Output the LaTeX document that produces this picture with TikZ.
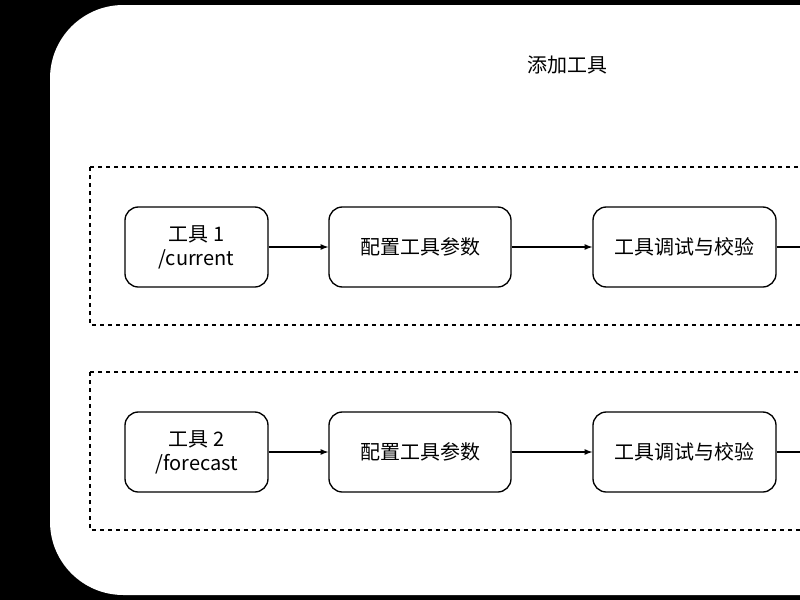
\documentclass[tikz,border=0pt]{standalone}
\usepackage{fontspec}
\setmainfont{Noto Sans CJK SC}
\begin{document}
\begin{tikzpicture}[x=0.75pt,y=-0.75pt,
  box/.style={draw,rounded corners=10pt,line width=1pt,fill=white,align=center,font=\fontsize{15}{18}\selectfont},
  grp/.style={draw,dashed,line width=0.8pt},
  arr/.style={-latex,line width=1pt}]
\useasboundingbox (0,0) rectangle (800,600);
\fill[black] (0,0) rectangle (800,600);
\fill[white,rounded corners=55pt] (50,5) rectangle (900,595);
\clip (0,0) rectangle (800,600);
\node[font=\fontsize{15}{18}\selectfont] (title) at (567,65) {添加工具};
\foreach \r/\y/\t in {1/167/{工具 1\\/current},2/372/{工具 2\\/forecast}}{
  \draw[grp] (90,\y) rectangle (830,\y+158);
  \node[box,minimum width=143*0.75pt,minimum height=80*0.75pt] (t\r) at (196.5,\y+80) {\t};
  \node[box,minimum width=182*0.75pt,minimum height=80*0.75pt] (c\r) at (420,\y+80) {配置工具参数};
  \node[box,minimum width=183*0.75pt,minimum height=80*0.75pt] (d\r) at (684.5,\y+80) {工具调试与校验};
  \coordinate (e\r) at (810,\y+80);
  \draw[arr] (t\r) -- (c\r);
  \draw[arr] (c\r) -- (d\r);
  \draw[line width=1pt] (d\r) -- (e\r);
}
\end{tikzpicture}
\end{document}
